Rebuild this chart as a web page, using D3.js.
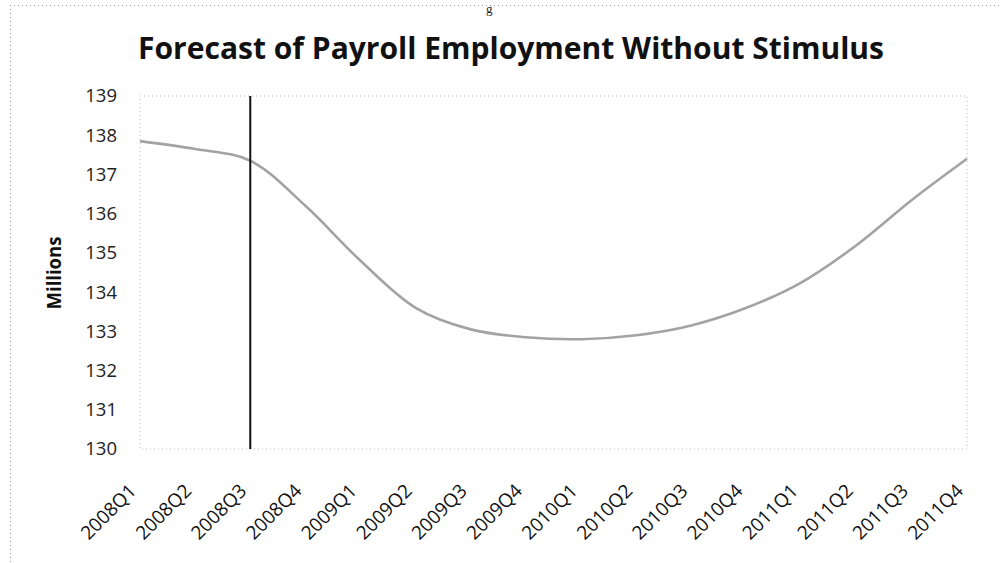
<!DOCTYPE html>
<html>
<head>
<meta charset="utf-8">
<script src="https://cdn.jsdelivr.net/npm/d3@7"></script>
<style>
html,body{margin:0;padding:0;background:#fff;}
svg{display:block;}
</style>
</head>
<body>
<svg id="chart" width="1001" height="563"></svg>
<script>
const quarters = ["2008Q1","2008Q2","2008Q3","2008Q4","2009Q1","2009Q2","2009Q3","2009Q4",
                  "2010Q1","2010Q2","2010Q3","2010Q4","2011Q1","2011Q2","2011Q3","2011Q4"];
const employment = [137.85,137.65,137.35,136.2,134.8,133.6,133.05,132.85,
                    132.8,132.9,133.15,133.6,134.25,135.2,136.35,137.4];
const yTicks = [130,131,132,133,134,135,136,137,138,139];
const markerQuarter = "2008Q3";
const titleText = "Forecast of Payroll Employment Without Stimulus";
const yLabel = "Millions";

const svg = d3.select("#chart");
const W = 1001, H = 563;
const m = {left:140, right:34, top:96, bottom:114};
const font = "'Open Sans', Lato, sans-serif";

const x = d3.scalePoint().domain(quarters).range([m.left, W - m.right]);
const y = d3.scaleLinear().domain([130,139]).range([H - m.bottom, m.top]);

// outer dotted frame (scan)
svg.append("line").attr("x1",10).attr("x2",W).attr("y1",5.5).attr("y2",5.5)
  .attr("stroke","#999").attr("stroke-width",1).attr("stroke-dasharray","1,3");
svg.append("line").attr("x1",10.5).attr("x2",10.5).attr("y1",5).attr("y2",H)
  .attr("stroke","#999").attr("stroke-width",1).attr("stroke-dasharray","1,3");

// fragment of text above
svg.append("text").attr("x",486).attr("y",13).attr("font-family","Liberation Serif")
  .attr("font-size",13).attr("fill","#222").text("g");

// title
svg.append("text").attr("x",511).attr("y",59).attr("text-anchor","middle")
  .attr("font-family",font).attr("font-weight","bold")
  .attr("font-size",30).attr("fill","#111")
  .attr("textLength",746).attr("lengthAdjust","spacingAndGlyphs")
  .text(titleText);

// plot area dotted border
svg.append("rect").attr("x",m.left).attr("y",m.top)
  .attr("width",W - m.right - m.left).attr("height",H - m.bottom - m.top)
  .attr("fill","none").attr("stroke","#bbb").attr("stroke-width",1)
  .attr("stroke-dasharray","1,3");

// y axis
const yAxis = svg.append("g").attr("transform",`translate(${m.left},0)`)
  .call(d3.axisLeft(y).tickValues(yTicks).tickSize(0).tickPadding(23).tickFormat(d3.format("d")));
yAxis.select(".domain").remove();
yAxis.selectAll("text").attr("font-family",font)
  .attr("font-size",18.5).attr("fill","#222");

// x axis
const xAxis = svg.append("g").attr("transform",`translate(0,${H - m.bottom})`)
  .call(d3.axisBottom(x).tickSize(0).tickPadding(0));
xAxis.select(".domain").remove();
xAxis.selectAll("text")
  .attr("font-family",font).attr("font-size",19).attr("fill","#111")
  .attr("text-anchor","end").attr("dy",0)
  .attr("transform","translate(-3,43) rotate(-45)");

// y label
svg.append("text").attr("transform",`translate(61,273) rotate(-90)`)
  .attr("text-anchor","middle").attr("font-family",font)
  .attr("font-weight","bold").attr("font-size",19).attr("fill","#111")
  .attr("textLength",73).attr("lengthAdjust","spacingAndGlyphs").text(yLabel);

// series line
const line = d3.line().x((d,i)=>x(quarters[i])).y(d=>y(d)).curve(d3.curveCatmullRom.alpha(0.5));
svg.append("path").datum(employment).attr("d",line)
  .attr("fill","none").attr("stroke","#a3a3a3").attr("stroke-width",2.6);

// vertical marker line
svg.append("line").attr("x1",x(markerQuarter)).attr("x2",x(markerQuarter))
  .attr("y1",y(139)).attr("y2",y(130))
  .attr("stroke","#111").attr("stroke-width",2);
</script>
</body>
</html>
